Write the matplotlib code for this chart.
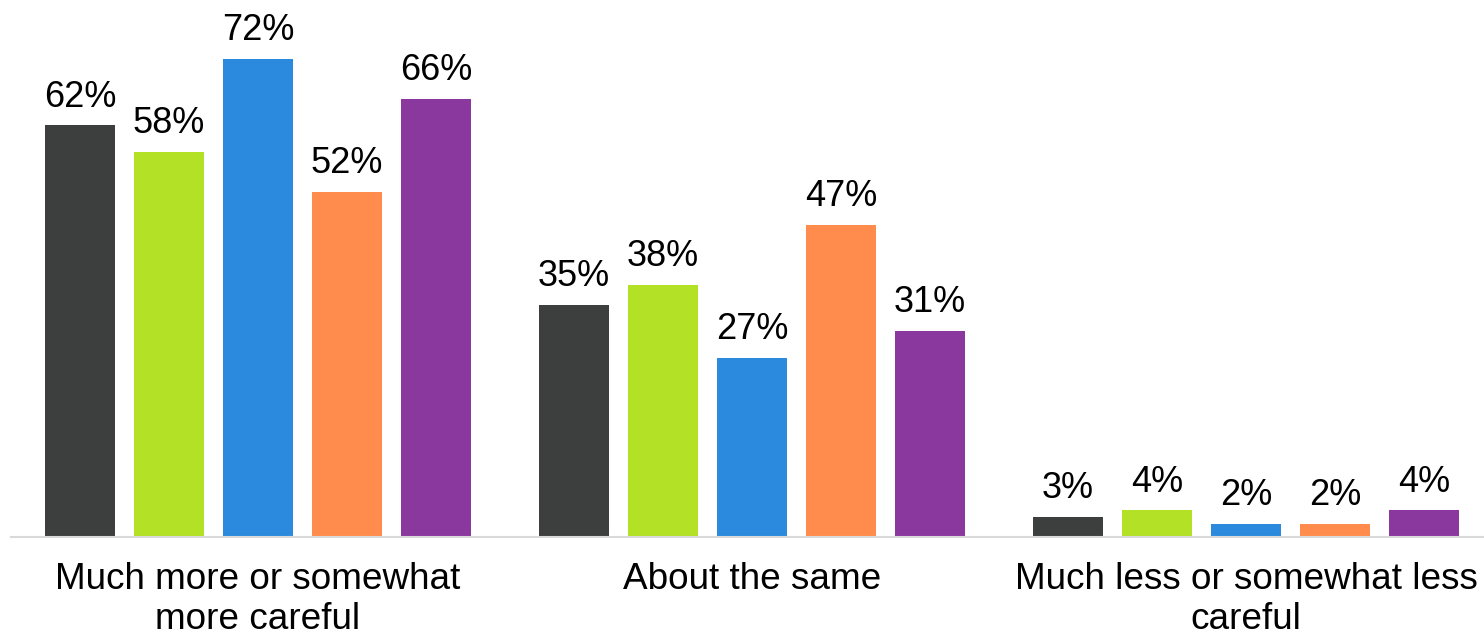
import matplotlib.pyplot as plt
import numpy as np

plt.rcParams['font.family'] = ['Liberation Sans', 'DejaVu Sans']

categories = ["Much more or somewhat\nmore careful", "About the same",
              "Much less or somewhat less\ncareful"]
# five respondent groups, one colour each
series = [
    [62, 35, 3],
    [58, 38, 4],
    [72, 27, 2],
    [52, 47, 2],
    [66, 31, 4],
]
colors = ["#3d3f3e", "#b2e125", "#2b8ade", "#ff8c4d", "#8a389d"]

fig = plt.figure(figsize=(14.84, 6.41), dpi=100)
ax = fig.add_axes([11/1484, 104/641, 1473/1484, 537/641])

x = np.arange(len(categories))
pitch = 0.1802
width = 0.1417
for i, vals in enumerate(series):
    pos = x + (i - 2) * pitch
    bars = ax.bar(pos, vals, width, color=colors[i], zorder=2)
    for b, v in zip(bars, vals):
        ax.annotate(f"{v}%", (b.get_x() + b.get_width()/2, v),
                    xytext=(0, 13.5), textcoords="offset points",
                    ha="center", va="baseline", fontsize=26)

ax.set_xlim(-0.5, 2.4818)
ax.set_ylim(0, 80.9)
ax.set_xticks(x)
ax.set_xticklabels(categories, fontsize=26.6, linespacing=1.17)
ax.tick_params(axis="x", length=0, pad=18)
ax.set_yticks([])
for s in ["top", "left", "right"]:
    ax.spines[s].set_visible(False)
ax.spines["bottom"].set_color("#d9d9d9")
ax.spines["bottom"].set_linewidth(1.5)

fig.savefig("out.png", dpi=100)
